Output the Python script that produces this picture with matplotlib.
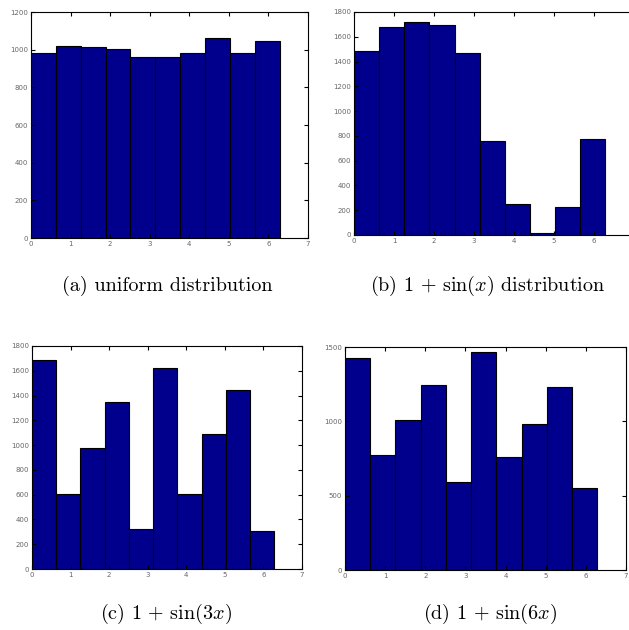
import numpy as np
import matplotlib.pyplot as plt

plt.rcParams['mathtext.fontset'] = 'cm'

# histogram counts for the 10 bins on [0, 2*pi]
uniform_counts = [985, 1022, 1013, 1003, 962, 962, 985, 1063, 985, 1044]
sin1_counts = [1482, 1676, 1722, 1692, 1471, 757, 253, 13, 224, 773]
sin3_counts = [1685, 606, 976, 1344, 325, 1623, 606, 1092, 1446, 309]
sin6_counts = [1426, 775, 1010, 1242, 591, 1464, 763, 984, 1231, 555]

ymax = [1200, 1800, 1800, 1500]
ystep = [200, 200, 200, 500]
captions = ['(a) uniform distribution', r'(b) $1\,+\,\sin(x)$ distribution',
            r'(c) $1\,+\,\sin(3x)$', r'(d) $1\,+\,\sin(6x)$']

edges = np.linspace(0, 2 * np.pi, 11)

fig = plt.figure(figsize=(6.29, 6.30), dpi=100)
rects = [[0.0493, 0.6222, 0.4404, 0.3587],
         [0.5628, 0.6270, 0.4452, 0.3540],
         [0.0509, 0.0968, 0.4293, 0.3540],
         [0.5485, 0.0952, 0.4467, 0.3540]]
all_counts = [uniform_counts, sin1_counts, sin3_counts, sin6_counts]

for i, (r, counts) in enumerate(zip(rects, all_counts)):
    ax = fig.add_axes(r)
    ax.bar(edges[:-1], counts, width=np.diff(edges), align='edge',
           color='#00008c', edgecolor='black', linewidth=0.8)
    ax.set_xlim(0, 7)
    ax.set_ylim(0, ymax[i])
    xl = [str(k) for k in range(8)]
    if i == 1:
        xl[-1] = ''  # falls outside the picture
    ax.set_xticks(range(8), xl)
    ax.set_yticks(np.arange(0, ymax[i] + 1, ystep[i]))
    ax.tick_params(direction='in', top=True, right=True, length=3,
                   width=0.8, labelsize=5, labelcolor='#666666', pad=2)
    for s in ax.spines.values():
        s.set_linewidth(0.8)

# captions under each panel
cap_pos = [(0.266, 0.546), (0.776, 0.546), (0.264, 0.025), (0.779, 0.025)]
for (x, y), c in zip(cap_pos, captions):
    fig.text(x, y, c, ha='center', va='center', fontsize=14.5,
             family='cmr10')

fig.savefig('out.png', dpi=100)
